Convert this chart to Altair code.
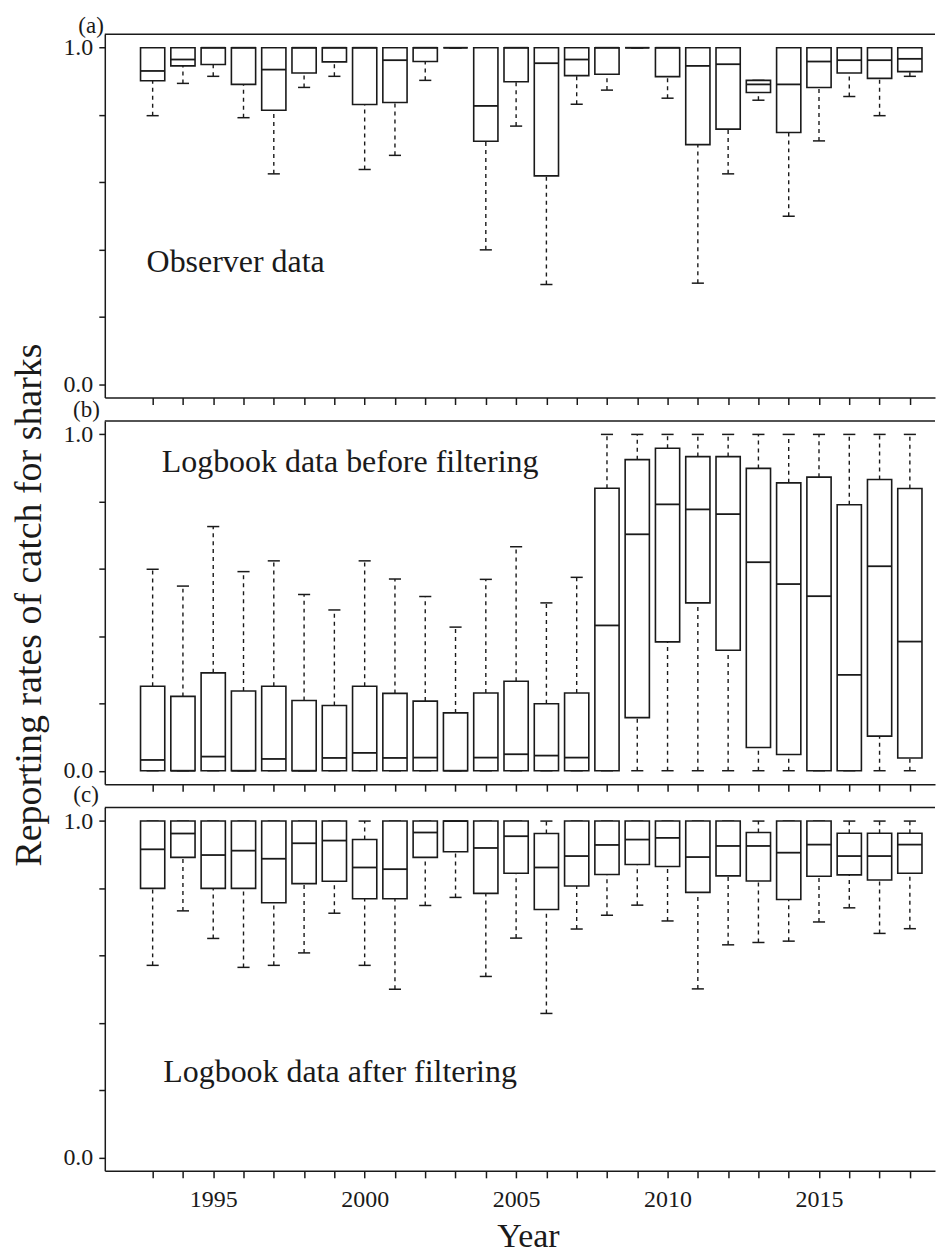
import altair as alt
import pandas as pd

years = list(range(1993, 2019))

# (a) Observer data
a_lo  = [0.798, 0.894, 0.915, 0.792, 0.625, 0.882, 0.915, 0.638, 0.680, 0.903, 1.0, 0.399, 0.767,
         0.296, 0.832, 0.874, 1.0, 0.850, 0.300, 0.625, 0.844, 0.499, 0.723, 0.855, 0.798, 0.915]
a_q1  = [0.902, 0.946, 0.950, 0.891, 0.814, 0.925, 0.958, 0.831, 0.837, 0.959, 1.0, 0.722, 0.899,
         0.619, 0.917, 0.921, 1.0, 0.914, 0.712, 0.758, 0.867, 0.748, 0.882, 0.925, 0.909, 0.929]
a_med = [0.931, 0.965, 1.0, 1.0, 0.935, 1.0, 1.0, 1.0, 0.963, 1.0, 1.0, 0.827, 1.0,
         0.954, 0.965, 1.0, 1.0, 1.0, 0.946, 0.951, 0.891, 0.891, 0.959, 0.963, 0.963, 0.967]
a_q3  = [1.0] * 20 + [0.903] + [1.0] * 5
a_hi  = [1.0] * 20 + [0.903] + [1.0] * 5

# (b) Logbook data before filtering
b_lo  = [0.0] * 26
b_q1  = [0.0] * 16 + [0.158, 0.383, 0.499, 0.358, 0.069, 0.048, 0.0, 0.0, 0.103, 0.038]
b_med = [0.032, 0.0, 0.042, 0.0, 0.035, 0.0, 0.038, 0.053, 0.038, 0.039, 0.0, 0.039, 0.049,
         0.045, 0.039, 0.432, 0.703, 0.792, 0.777, 0.763, 0.620, 0.555, 0.519, 0.285, 0.608, 0.384]
b_q3  = [0.251, 0.221, 0.291, 0.237, 0.251, 0.209, 0.194, 0.251, 0.230, 0.207, 0.172, 0.231, 0.266,
         0.199, 0.231, 0.840, 0.925, 0.959, 0.934, 0.934, 0.899, 0.856, 0.873, 0.791, 0.866, 0.839]
b_hi  = [0.599, 0.549, 0.726, 0.592, 0.624, 0.524, 0.478, 0.624, 0.570, 0.518, 0.427, 0.569, 0.666,
         0.499, 0.575] + [1.0] * 11

# (c) Logbook data after filtering
c_lo  = [0.571, 0.733, 0.651, 0.565, 0.571, 0.608, 0.726, 0.571, 0.500, 0.749, 0.773, 0.538, 0.652,
         0.428, 0.679, 0.720, 0.750, 0.703, 0.501, 0.632, 0.639, 0.643, 0.700, 0.742, 0.666, 0.680]
c_q1  = [0.800, 0.892, 0.800, 0.800, 0.757, 0.814, 0.821, 0.769, 0.769, 0.892, 0.909, 0.785, 0.845,
         0.737, 0.807, 0.841, 0.871, 0.865, 0.788, 0.837, 0.822, 0.767, 0.836, 0.840, 0.825, 0.845]
c_med = [0.916, 0.963, 0.899, 0.912, 0.888, 0.934, 0.942, 0.862, 0.857, 0.966, 1.0, 0.920, 0.955,
         0.862, 0.896, 0.929, 0.945, 0.950, 0.893, 0.926, 0.926, 0.906, 0.930, 0.896, 0.896, 0.930]
c_q3  = [1.0, 1.0, 1.0, 1.0, 1.0, 1.0, 1.0, 0.945, 1.0, 1.0, 1.0, 1.0, 1.0,
         0.963, 1.0, 1.0, 1.0, 1.0, 1.0, 1.0, 0.966, 1.0, 1.0, 0.964, 0.964, 0.964]
c_hi  = [1.0] * 26

panel_labels = ["(a)", "(b)", "(c)"]
notes = ["Observer data", "Logbook data before filtering", "Logbook data after filtering"]
note_x = [1992.8, 1993.3, 1993.35]
note_y = [0.333, 0.889, 0.223]
y_ticks = [0.0, 0.2, 0.4, 0.6, 0.8, 1.0]

FONT = "Liberation Serif, Times New Roman, Times, serif"
INK = "#1a1a1a"
W, H = 832, 364
X_DOM = [1991.42, 2018.83]
Y_DOM = [-0.04, 1.04]


def make_df(lo, q1, med, q3, hi):
    return pd.DataFrame({"year": years, "lo": lo, "q1": q1, "med": med, "q3": q3, "hi": hi})


def panel(df, idx, label_dx, label_dy, bottom=False, ytitle=False):
    xs = alt.Scale(domain=X_DOM, nice=False, zero=False)
    ys = alt.Scale(domain=Y_DOM, nice=False, zero=False)
    xkw = dict(values=years, grid=False, tickSize=7, tickWidth=1.5, tickColor=INK,
               domainColor=INK, domainWidth=1.5, labelFlush=False, labelOverlap=False)
    if bottom:
        xaxis = alt.Axis(labels=True, format="d",
                         labelExpr="datum.value % 5 === 0 ? datum.label : ''",
                         labelFont=FONT, labelFontSize=24, labelColor=INK, labelPadding=10,
                         title="Year", titleFont=FONT, titleFontSize=34, titleFontWeight="normal",
                         titleColor=INK, titleX=424, titleY=76, titleBaseline="alphabetic",
                         titleAlign="center", **xkw)
    else:
        xaxis = alt.Axis(labels=False, title=None, **xkw)
    ykw = dict(values=y_ticks, grid=False, tickSize=6, tickWidth=1.5, tickColor=INK,
               domainColor=INK, domainWidth=1.5, labelFlush=False,
               labelExpr="datum.value === 0 || datum.value === 1 ? format(datum.value, '.1f') : ''",
               labelFont=FONT, labelFontSize=24, labelColor=INK, labelPadding=6)
    if ytitle:
        yaxis = alt.Axis(title="Reporting rates of catch for sharks", titleFont=FONT,
                         titleFontSize=38, titleFontWeight="normal", titleColor=INK,
                         titleAngle=270, titleBaseline="alphabetic", titleAlign="center",
                         titleX=-64, titleY=184, **ykw)
    else:
        yaxis = alt.Axis(title=None, **ykw)

    base = alt.Chart(df).transform_calculate(
        xl="datum.year - 0.4", xr="datum.year + 0.4",
        cl="datum.year - 0.2", cr="datum.year + 0.2")

    X = lambda f: alt.X(f, type="quantitative", scale=xs, axis=xaxis)
    Y = lambda f: alt.Y(f, type="quantitative", scale=ys, axis=yaxis)

    dash = dict(strokeDash=[4, 4], strokeWidth=1.4, color=INK)
    w_lo = base.mark_rule(**dash).encode(x=X("year"), y=Y("lo"), y2="q1:Q")
    w_hi = base.mark_rule(**dash).encode(x=X("year"), y=Y("q3"), y2="hi:Q")
    c_lo_m = base.mark_rule(strokeWidth=1.5, color=INK).encode(x=X("cl"), x2="cr:Q", y=Y("lo"))
    c_hi_m = base.mark_rule(strokeWidth=1.5, color=INK).encode(x=X("cl"), x2="cr:Q", y=Y("hi"))
    box = base.mark_rect(fill="white", stroke=INK, strokeWidth=1.6).encode(
        x=X("xl"), x2="xr:Q", y=Y("q1"), y2="q3:Q")
    med = base.mark_rule(strokeWidth=1.8, color=INK).encode(x=X("xl"), x2="xr:Q", y=Y("med"))
    top = alt.Chart(pd.DataFrame({"k": [0]})).mark_rule(strokeWidth=1.5, color=INK).encode(
        x=alt.value(0), x2=alt.value(W), y=alt.value(0))
    note = alt.Chart(pd.DataFrame({"x": [note_x[idx]], "y": [note_y[idx]], "t": [notes[idx]]})).mark_text(
        align="left", baseline="alphabetic", font=FONT, fontSize=32, color=INK).encode(
        x=X("x"), y=Y("y"), text="t:N")
    tag = alt.Chart(pd.DataFrame({"t": [panel_labels[idx]]})).mark_text(
        align="right", baseline="alphabetic", font=FONT, fontSize=23, color=INK).encode(
        x=alt.value(label_dx), y=alt.value(label_dy), text="t:N")

    return alt.layer(w_lo, w_hi, c_lo_m, c_hi_m, box, med, top, note, tag).properties(
        width=W, height=H)


pa = panel(make_df(a_lo, a_q1, a_med, a_q3, a_hi), 0, -1, -1)
pb = panel(make_df(b_lo, b_q1, b_med, b_q3, b_hi), 1, -5, -3.5, ytitle=True)
pc = panel(make_df(c_lo, c_q1, c_med, c_q3, c_hi), 2, -6, -6, bottom=True)

chart = alt.vconcat(pa, pb, pc, spacing=23.5, bounds="flush").properties(
    padding={"left": 2, "top": 6, "right": 0, "bottom": 0},
    background="white",
).configure_view(stroke=None)

chart.save("out.html", embed_options={"renderer": "svg", "actions": False})
